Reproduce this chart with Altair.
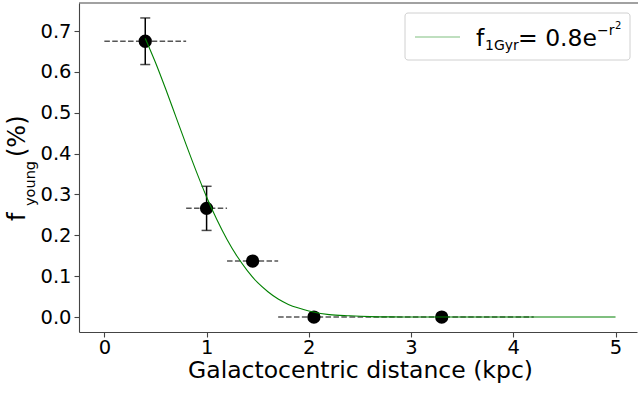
import altair as alt
import pandas as pd

# ---- data ----
r_pts = [0.4, 1.0, 1.45, 2.05, 3.3]
f_pts = [0.675, 0.266, 0.137, 0.0, 0.0]
xerr = [0.4, 0.2, 0.25, 0.35, 0.9]
yerr = [0.057, 0.054, 0.0, 0.0, 0.0]

curve_r = [0.4, 0.5, 0.6, 0.7, 0.8, 0.9, 1.0, 1.1, 1.2, 1.3, 1.4, 1.5, 1.6, 1.7,
           1.8, 1.9, 2.0, 2.2, 2.4, 2.6, 2.8, 3.0, 3.5, 4.0, 4.5, 5.0]
curve_f = [0.682, 0.623, 0.558, 0.490, 0.422, 0.356, 0.294, 0.239, 0.190, 0.148,
           0.113, 0.084, 0.062, 0.044, 0.031, 0.022, 0.015, 0.006, 0.003, 0.001,
           0.0003, 0.0001, 0.0, 0.0, 0.0, 0.0]

x_ticks = [0, 1, 2, 3, 4, 5]
y_ticks = [0.0, 0.1, 0.2, 0.3, 0.4, 0.5, 0.6, 0.7]

W, H = 558, 329
OX, OY = 79, 3
FONT = "DejaVu Sans"

pts = pd.DataFrame({
    "r": r_pts, "f": f_pts,
    "xlo": [a - b for a, b in zip(r_pts, xerr)],
    "xhi": [a + b for a, b in zip(r_pts, xerr)],
    "ylo": [a - b for a, b in zip(f_pts, yerr)],
    "yhi": [a + b for a, b in zip(f_pts, yerr)],
    "has_y": [e > 0 for e in yerr],
})
curve = pd.DataFrame({"r": curve_r, "f": curve_f})

xs = alt.Scale(domain=[-0.248, 5.21], nice=False, zero=False)
ys = alt.Scale(domain=[-0.0366, 0.7686], nice=False, zero=False)

xax = alt.Axis(values=x_ticks, format="d", title="Galactocentric distance (kpc)",
               titleX=360 - OX, titleY=45, titleBaseline="alphabetic",
               titleFontSize=23.5, titleFontWeight="normal", titleFont=FONT,
               titleColor="black", grid=False, labelPadding=1)
yax = alt.Axis(values=y_ticks, format=".1f", title=None, grid=False)

base = alt.Chart(pts)

xbars = base.mark_rule(color="#555555", strokeWidth=1.5, strokeDash=[5.5, 2.4]).encode(
    x=alt.X("xlo:Q", scale=xs, axis=xax), x2="xhi:Q",
    y=alt.Y("f:Q", scale=ys, axis=yax))

ybars = base.transform_filter("datum.has_y").mark_rule(color="black", strokeWidth=1.5).encode(
    x=alt.X("r:Q", scale=xs), y=alt.Y("ylo:Q", scale=ys), y2="yhi:Q")
cap_lo = base.transform_filter("datum.has_y").mark_tick(
    color="black", thickness=1.5, size=10, orient="horizontal").encode(
    x=alt.X("r:Q", scale=xs), y=alt.Y("ylo:Q", scale=ys))
cap_hi = base.transform_filter("datum.has_y").mark_tick(
    color="black", thickness=1.5, size=10, orient="horizontal").encode(
    x=alt.X("r:Q", scale=xs), y=alt.Y("yhi:Q", scale=ys))

points = base.mark_circle(color="black", opacity=1, size=177).encode(
    x=alt.X("r:Q", scale=xs), y=alt.Y("f:Q", scale=ys))

line = alt.Chart(curve).mark_line(color="green", strokeWidth=1.1, interpolate="monotone").encode(
    x=alt.X("r:Q", scale=xs), y=alt.Y("f:Q", scale=ys))

one = pd.DataFrame({"k": [0]})

top_spine = alt.Chart(one).mark_rule(color="#444444", strokeWidth=1.1).encode(
    x=alt.value(0), x2=alt.value(W + 5), y=alt.value(0))

def txt(s, x, y, size, angle=0):
    return alt.Chart(one).mark_text(
        text=s, font=FONT, fontSize=size, color="black", align="left",
        baseline="alphabetic", angle=angle).encode(
        x=alt.value(x - OX), y=alt.value(y - OY))

# y title: f_young (%)
ytitle = [
    txt("f", 25, 221, 24, 270),
    txt("young", 35, 206, 14.5, 270),
    txt("(%)", 25, 157, 24, 270),
]

# legend
leg_box = alt.Chart(one).mark_rect(
    fill="white", fillOpacity=0.8, stroke="#d0d0d0", strokeWidth=1, cornerRadius=3).encode(
    x=alt.value(405 - OX), x2=alt.value(630 - OX), y=alt.value(13 - OY), y2=alt.value(60 - OY))
leg_line = alt.Chart(one).mark_rule(color="green", strokeWidth=1.1, opacity=0.5).encode(
    x=alt.value(415 - OX), x2=alt.value(460 - OX), y=alt.value(37 - OY))
leg_text = [
    txt("f", 476, 46, 23.5),
    txt("1Gyr", 485, 50, 14),
    txt("= 0.8e", 518, 46, 23.5),
    txt("\u2212r", 597, 35, 14),
    txt("2", 615, 29, 10),
]

chart = alt.layer(
    xbars, ybars, cap_lo, cap_hi, points, line, top_spine,
    *ytitle, leg_box, leg_line, *leg_text
).properties(
    width=W, height=H,
    autosize=alt.AutoSizeParams(type="none"),
    padding={"left": OX, "top": OY, "right": 638 - OX - W, "bottom": 397 - OY - H},
    background="white",
).configure_view(stroke=None).configure_axis(
    labelFont=FONT, labelFontSize=19.5, labelColor="black",
    domainColor="#444444", domainWidth=1.1,
    tickColor="#444444", tickWidth=1.1, tickSize=5, labelPadding=3,
)

chart.save("out.html", embed_options={"renderer": "svg", "actions": False})
